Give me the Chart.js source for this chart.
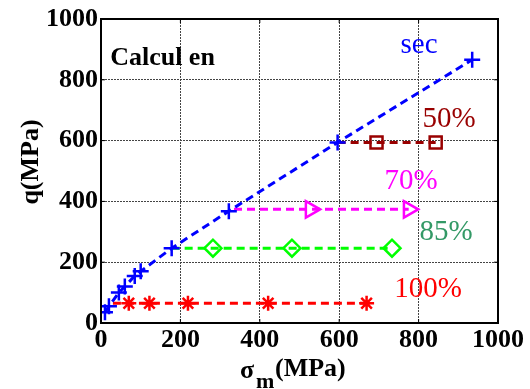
<!DOCTYPE html>
<html>
<head>
<meta charset="utf-8">
<script src="https://cdn.jsdelivr.net/npm/chart.js@4/dist/chart.umd.min.js"></script>
<style>
    body { margin: 0; background: #fff; }
    #wrap { width: 530px; height: 389px; position: relative; }
</style>
</head>
<body>
<div id="wrap"><canvas id="myChart"></canvas></div>
<script>
// data (sigma_m, q) in MPa
const secX = [10, 20, 45, 60, 85, 100, 178, 322, 596, 935];
const secY = [35, 55, 100, 120, 155, 170, 246, 368, 594, 866];

const p50X = [596, 694, 843];
const p50Y = [594, 594, 594];

const p70X = [335, 528, 775];
const p70Y = [374, 374, 374];

const p85X = [178, 282, 481, 733];
const p85Y = [246, 246, 246, 246];

const p100X = [30, 70, 122, 219, 421, 669];
const p100Y = [65, 65, 65, 65, 65, 65];

const tickVals = [0, 200, 400, 600, 800, 1000];

const serif = "'Liberation Serif', 'Times New Roman', serif";

// text placed in data coordinates
const notes = [
    { text: 'sec', x: 801, y: 888, color: '#0000ff', align: 'center', font: '29px ' + serif },
    { text: '50%', x: 877, y: 645, color: '#990000', align: 'center', font: '29px ' + serif },
    { text: '70%', x: 781, y: 441, color: '#ff00ff', align: 'center', font: '29px ' + serif },
    { text: '85%', x: 869, y: 273, color: '#339966', align: 'center', font: '29px ' + serif },
    { text: '100%', x: 824, y: 86, color: '#ff0000', align: 'center', font: '29px ' + serif },
    { text: 'Calcul en', x: 23, y: 849, color: '#000', align: 'left', font: 'bold 26px ' + serif }
];

const pts = (xs, ys) => xs.map((x, i) => ({ x: x, y: ys[i] }));
const firstHidden = (n, r) => Array.from({ length: n }, (v, i) => i === 0 ? 0 : r);

const serie = (data, color, style, radius, hideFirst, rot) => ({
    data: data,
    borderColor: color,
    backgroundColor: 'rgba(0,0,0,0)',
    borderWidth: 3,
    borderDash: [8, 5],
    pointStyle: style,
    pointRotation: rot || 0,
    pointRadius: hideFirst ? firstHidden(data.length, radius) : radius,
    pointBorderColor: color,
    pointBorderWidth: 2.5,
    pointBackgroundColor: 'rgba(0,0,0,0)',
    fill: false,
    tension: 0
});

const decor = {
    id: 'decor',
    afterDatasetsDraw(chart) {
        const { ctx, chartArea: a, scales } = chart;
        ctx.save();
        // box + inner ticks on every side
        ctx.strokeStyle = '#000';
        ctx.lineWidth = 2;
        ctx.strokeRect(a.left, a.top, a.right - a.left, a.bottom - a.top);
        ctx.lineWidth = 1;
        tickVals.forEach(v => {
            const px = scales.x.getPixelForValue(v);
            const py = scales.y.getPixelForValue(v);
            ctx.beginPath();
            ctx.moveTo(px, a.bottom); ctx.lineTo(px, a.bottom - 4);
            ctx.moveTo(px, a.top); ctx.lineTo(px, a.top + 4);
            ctx.moveTo(a.left, py); ctx.lineTo(a.left + 4, py);
            ctx.moveTo(a.right, py); ctx.lineTo(a.right - 4, py);
            ctx.stroke();
        });
        // annotations
        ctx.textBaseline = 'alphabetic';
        notes.forEach(n => {
            ctx.font = n.font;
            ctx.fillStyle = n.color;
            ctx.textAlign = n.align;
            ctx.fillText(n.text, scales.x.getPixelForValue(n.x), scales.y.getPixelForValue(n.y));
        });
        // axis titles
        ctx.fillStyle = '#000';
        ctx.textAlign = 'left';
        ctx.font = 'bold 26px ' + serif;
        ctx.fillText('σ', 240, 378);
        ctx.font = 'bold 22px ' + serif;
        ctx.fillText('m', 256, 388);
        ctx.font = 'bold 26px ' + serif;
        ctx.fillText('(MPa)', 275, 376);

        ctx.translate(38, 162);
        ctx.rotate(-Math.PI / 2);
        ctx.textAlign = 'center';
        ctx.fillText('q(MPa)', 0, 0);
        ctx.restore();
    }
};

const axis = (fitKey, fitVal) => ({
    type: 'linear',
    min: 0,
    max: 1000,
    afterBuildTicks: s => { s.ticks = tickVals.map(v => ({ value: v })); },
    afterFit: s => { s[fitKey] = fitVal; },
    grid: { color: '#444', lineWidth: 1, drawTicks: false },
    border: { color: '#000', width: 2, dash: [2, 1] },
    ticks: {
        color: '#000',
        padding: 3,
        callback: v => String(v),
        font: { family: serif, size: 26, weight: 'bold' }
    },
    title: { display: false }
});

const xAxis = axis('height', 66);
xAxis.ticks.padding = 2;
xAxis.ticks.maxRotation = 0;

new Chart(document.getElementById('myChart'), {
    type: 'line',
    data: {
        datasets: [
            serie(pts(secX, secY), '#0000ff', 'cross', 8, false),
            serie(pts(p50X, p50Y), '#990000', 'rect', 8.5, true),
            serie(pts(p70X, p70Y), '#ff00ff', 'triangle', 9.5, true, 90),
            serie(pts(p85X, p85Y), '#00ff00', 'rectRot', 8.5, true),
            serie(pts(p100X, p100Y), '#ff0000', 'star', 7.5, true)
        ]
    },
    options: {
        responsive: true,
        maintainAspectRatio: false,
        animation: false,
        layout: { padding: { top: 19, right: 32, left: 0, bottom: 0 } },
        plugins: { legend: { display: false }, tooltip: { enabled: false } },
        scales: {
            x: xAxis,
            y: axis('width', 101)
        }
    },
    plugins: [decor]
});
</script>
</body>
</html>
